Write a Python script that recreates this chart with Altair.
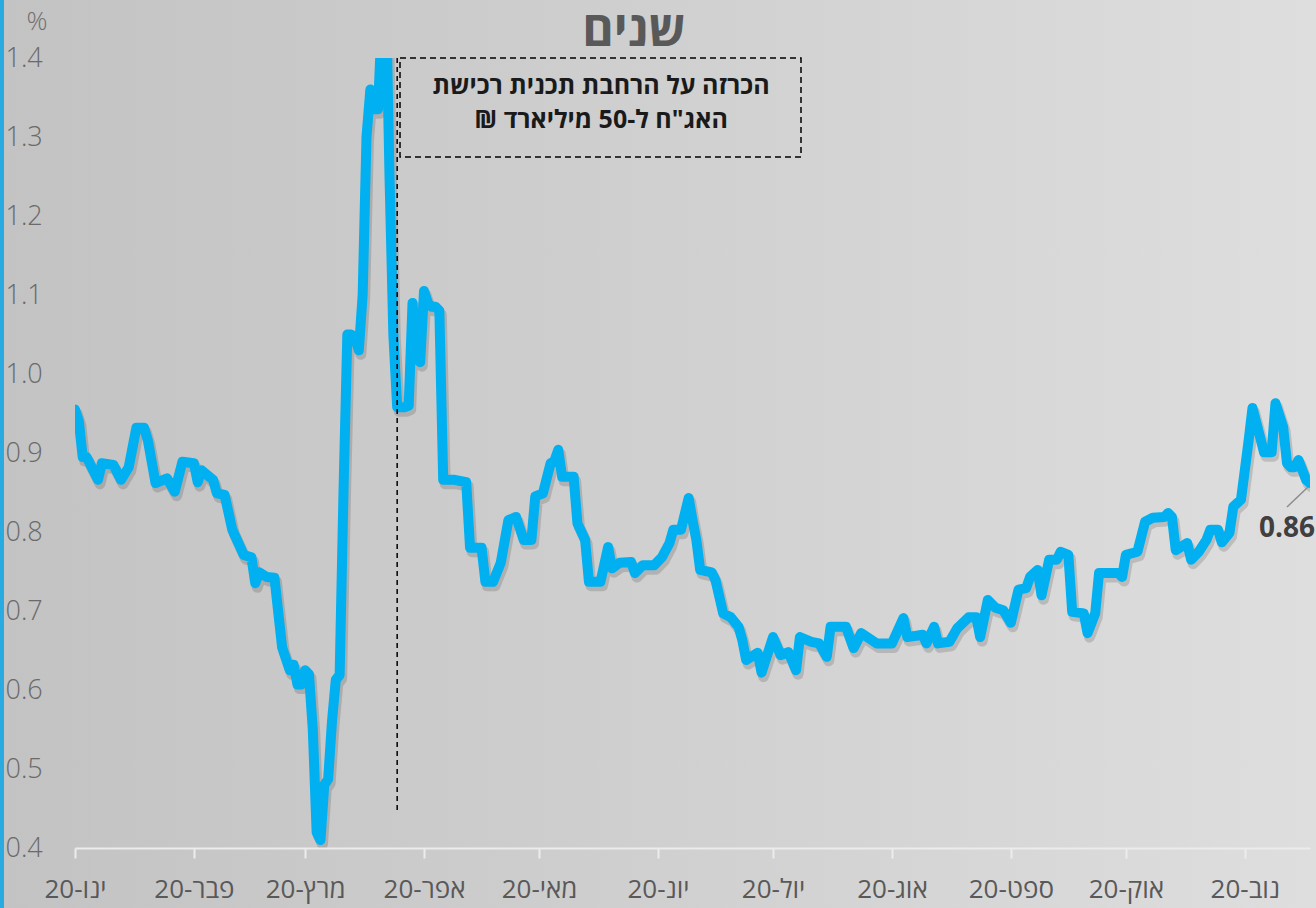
import altair as alt
import pandas as pd

# ---- data ----
dates = [
    "2020-01-01", "2020-01-02", "2020-01-03", "2020-01-04", "2020-01-07", "2020-01-08", "2020-01-11",
    "2020-01-13", "2020-01-15", "2020-01-17", "2020-01-19", "2020-01-20", "2020-01-22", "2020-01-25",
    "2020-01-27", "2020-01-29", "2020-02-01", "2020-02-02", "2020-02-03", "2020-02-06", "2020-02-07",
    "2020-02-09", "2020-02-11", "2020-02-14", "2020-02-16", "2020-02-17", "2020-02-18", "2020-02-20",
    "2020-02-22", "2020-02-24", "2020-02-26", "2020-02-27", "2020-02-28", "2020-02-29", "2020-03-01",
    "2020-03-02", "2020-03-03", "2020-03-04", "2020-03-05", "2020-03-06", "2020-03-07", "2020-03-08",
    "2020-03-09", "2020-03-10", "2020-03-11", "2020-03-12", "2020-03-13", "2020-03-14", "2020-03-15",
    "2020-03-16", "2020-03-17", "2020-03-18", "2020-03-19", "2020-03-20", "2020-03-21", "2020-03-22",
    "2020-03-23", "2020-03-24", "2020-03-25", "2020-03-26", "2020-03-27", "2020-03-28", "2020-03-29",
    "2020-03-30", "2020-03-31", "2020-04-01", "2020-04-02", "2020-04-03", "2020-04-04", "2020-04-05",
    "2020-04-06", "2020-04-07", "2020-04-09", "2020-04-12", "2020-04-13", "2020-04-16", "2020-04-17",
    "2020-04-19", "2020-04-21", "2020-04-23", "2020-04-25", "2020-04-27", "2020-04-29", "2020-04-30",
    "2020-05-02", "2020-05-04", "2020-05-05", "2020-05-06", "2020-05-07", "2020-05-10", "2020-05-11",
    "2020-05-13", "2020-05-14", "2020-05-17", "2020-05-19", "2020-05-20", "2020-05-22", "2020-05-25",
    "2020-05-26", "2020-05-28", "2020-05-31", "2020-06-02", "2020-06-04", "2020-06-05", "2020-06-07",
    "2020-06-09", "2020-06-10", "2020-06-11", "2020-06-12", "2020-06-15", "2020-06-16", "2020-06-18",
    "2020-06-20", "2020-06-22", "2020-06-23", "2020-06-24", "2020-06-27", "2020-06-28", "2020-07-01",
    "2020-07-03", "2020-07-05", "2020-07-07", "2020-07-08", "2020-07-11", "2020-07-13", "2020-07-15",
    "2020-07-16", "2020-07-20", "2020-07-22", "2020-07-24", "2020-07-28", "2020-08-01", "2020-08-04",
    "2020-08-05", "2020-08-09", "2020-08-10", "2020-08-12", "2020-08-13", "2020-08-16", "2020-08-18",
    "2020-08-21", "2020-08-23", "2020-08-24", "2020-08-26", "2020-08-28", "2020-08-30", "2020-09-01",
    "2020-09-03", "2020-09-05", "2020-09-06", "2020-09-08", "2020-09-09", "2020-09-11", "2020-09-13",
    "2020-09-14", "2020-09-16", "2020-09-17", "2020-09-20", "2020-09-21", "2020-09-23", "2020-09-24",
    "2020-09-29", "2020-09-30", "2020-10-01", "2020-10-04", "2020-10-06", "2020-10-08", "2020-10-11",
    "2020-10-12", "2020-10-13", "2020-10-14", "2020-10-17", "2020-10-18", "2020-10-20", "2020-10-22",
    "2020-10-23", "2020-10-25", "2020-10-26", "2020-10-28", "2020-10-29", "2020-10-31", "2020-11-01",
    "2020-11-02", "2020-11-03", "2020-11-05", "2020-11-06", "2020-11-08", "2020-11-09", "2020-11-11",
    "2020-11-12", "2020-11-13", "2020-11-14", "2020-11-15", "2020-11-17", "2020-11-18",
]
values = [
    0.955, 0.94, 0.895, 0.895, 0.866, 0.887, 0.885,
    0.866, 0.882, 0.932, 0.932, 0.916, 0.862, 0.868,
    0.851, 0.889, 0.887, 0.863, 0.878, 0.866, 0.849,
    0.847, 0.803, 0.771, 0.768, 0.735, 0.749, 0.743,
    0.742, 0.654, 0.625, 0.632, 0.607, 0.607, 0.625,
    0.62, 0.55, 0.42, 0.41, 0.48, 0.487, 0.56,
    0.613, 0.619, 0.85, 1.05, 1.05, 1.045, 1.03,
    1.10, 1.30, 1.36, 1.335, 1.335, 1.45, 1.50,
    1.25, 1.05, 0.958, 0.958, 0.958, 0.96, 1.09,
    1.02, 1.015, 1.105, 1.09, 1.085, 1.085, 1.08,
    0.866, 0.866, 0.866, 0.863, 0.78, 0.78, 0.737,
    0.737, 0.761, 0.815, 0.819, 0.79, 0.79, 0.845,
    0.849, 0.887, 0.89, 0.904, 0.87, 0.87, 0.811,
    0.79, 0.737, 0.737, 0.781, 0.754, 0.761, 0.762,
    0.748, 0.758, 0.758, 0.768, 0.786, 0.803, 0.803,
    0.843, 0.815, 0.79, 0.752, 0.749, 0.739, 0.697,
    0.692, 0.68, 0.663, 0.638, 0.647, 0.622, 0.667,
    0.644, 0.648, 0.625, 0.667, 0.661, 0.659, 0.642,
    0.68, 0.68, 0.653, 0.672, 0.659, 0.659, 0.691,
    0.667, 0.67, 0.659, 0.68, 0.659, 0.661, 0.678,
    0.692, 0.692, 0.667, 0.714, 0.704, 0.701, 0.685,
    0.727, 0.729, 0.743, 0.752, 0.72, 0.765, 0.765,
    0.775, 0.771, 0.699, 0.697, 0.672, 0.697, 0.748,
    0.748, 0.743, 0.771, 0.775, 0.813, 0.818, 0.819,
    0.824, 0.819, 0.777, 0.786, 0.765, 0.775, 0.79,
    0.803, 0.803, 0.787, 0.799, 0.832, 0.841, 0.878,
    0.916, 0.957, 0.92, 0.901, 0.901, 0.963, 0.933,
    0.887, 0.882, 0.882, 0.891, 0.866, 0.862,
]
month_names = ["ינו", "פבר", "מרץ", "אפר", "מאי", "יונ", "יול", "אוג", "ספט", "אוק", "נוב", "דצמ"]
tick_months = [1, 2, 3, 4, 5, 6, 7, 8, 9, 10, 11]
y_ticks = [0.4, 0.5, 0.6, 0.7, 0.8, 0.9, 1.0, 1.1, 1.2, 1.3, 1.4]
title_text = "שנים"
unit_text = "%"
note_line1 = "הכרזה על הרחבת תכנית רכישת"
note_line2 = "האג\"ח ל-50 מיליארד ₪\u200f"
event_date = ["2020-03-25"]

# ---- layout ----
PAD_L, PAD_T, PAD_R, PAD_B = 75, 58, 6, 60
W = 1316 - PAD_L - PAD_R
H = 908 - PAD_T - PAD_B

df = pd.DataFrame({"date": dates, "value": values})
last = df.tail(1)
one = pd.DataFrame({"k": [0]})

FONT = "Open Sans, Liberation Sans, DejaVu Sans, sans-serif"
LINE_BLUE = "#00b0f0"

x_scale = alt.Scale(
    type="utc",
    domain=[alt.DateTime(year=2020, month=1, date=1, utc=True),
            alt.DateTime(year=2020, month=11, date=18, utc=True)],
)
y_scale = alt.Scale(domain=[0.4, 1.4], nice=False, zero=False)

label_expr = "[" + ",".join("'" + m + "'" for m in month_names) + "][utcmonth(datum.value)] + '-' + utcFormat(datum.value, '%y')"

x_axis = alt.Axis(
    values=[alt.DateTime(year=2020, month=m, date=1, utc=True) for m in tick_months],
    labelExpr=label_expr, title=None, grid=False, zindex=2,
    domainColor="#ececec", domainWidth=2, tickColor="#ececec", tickWidth=2, tickSize=10,
    labelFontSize=26, labelColor="#595959", labelFont=FONT, labelPadding=18,
    labelFlush=False, labelOverlap=False, labelAlign="center",
)
y_axis = alt.Axis(
    values=y_ticks, format=".1f", title=None, grid=False, domain=False, ticks=False, zindex=2,
    labelAlign="left", labelPadding=70, labelFontSize=27, labelColor="#6a6a6a",
    labelFont=FONT, labelFontWeight=300, labelBaseline="middle", labelOverlap=False,
    labelFlush=False,
)

bg = alt.Chart(one).mark_rect(
    fill=alt.LinearGradient(
        gradient="linear",
        stops=[alt.GradientStop(color="#c3c3c3", offset=0),
               alt.GradientStop(color="#cdcdcd", offset=0.4),
               alt.GradientStop(color="#dedede", offset=1)],
        x1=0, x2=1, y1=0, y2=0,
    )
).encode(x=alt.value(-PAD_L), x2=alt.value(W + PAD_R), y=alt.value(-PAD_T), y2=alt.value(H + PAD_B))

border = alt.Chart(one).mark_rect(fill="#29abe2").encode(
    x=alt.value(-PAD_L), x2=alt.value(-PAD_L + 4), y=alt.value(-PAD_T), y2=alt.value(H + PAD_B)
)

shadow = alt.Chart(df).mark_line(
    color="black", opacity=0.14, strokeWidth=11, xOffset=2, yOffset=4, clip=True,
    strokeJoin="round", strokeCap="round",
).encode(x=alt.X("date:T", scale=x_scale, axis=x_axis), y=alt.Y("value:Q", scale=y_scale, axis=y_axis))

line = alt.Chart(df).mark_line(
    color=LINE_BLUE, strokeWidth=10, clip=True, strokeJoin="round", strokeCap="round",
).encode(x=alt.X("date:T", scale=x_scale), y=alt.Y("value:Q", scale=y_scale))

event = alt.Chart(pd.DataFrame({"date": event_date, "top": [1.4], "bottom": [0.446]})).mark_rule(
    color="black", strokeWidth=1.5, strokeDash=[5, 4]
).encode(x=alt.X("date:T", scale=x_scale), y=alt.Y("top:Q", scale=y_scale), y2="bottom:Q")

box = alt.Chart(one).mark_rect(
    fill="transparent", stroke="black", strokeWidth=1.5, strokeDash=[6, 4]
).encode(x=alt.value(325), x2=alt.value(726), y=alt.value(0), y2=alt.value(99))

note1 = alt.Chart(one).mark_text(
    text=note_line1, font=FONT, fontSize=25, fontWeight="bold", color="#1a1a1a",
    align="center", baseline="middle",
).encode(x=alt.value(526), y=alt.value(28))
note2 = alt.Chart(one).mark_text(
    text=note_line2, font=FONT, fontSize=25, fontWeight="bold", color="#1a1a1a",
    align="center", baseline="middle",
).encode(x=alt.value(526), y=alt.value(62))

title = alt.Chart(one).mark_text(
    text=title_text, font=FONT, fontSize=48, fontWeight="bold", color="#595959",
    align="center", baseline="middle",
).encode(x=alt.value(559), y=alt.value(-26))

unit = alt.Chart(one).mark_text(
    text=unit_text, font=FONT, fontSize=26, fontWeight=300, color="#707070",
    align="center", baseline="middle",
).encode(x=alt.value(-38), y=alt.value(-36))

leader = alt.Chart(last).mark_rule(
    color="#8c8c8c", strokeWidth=1.5, xOffset=-23, yOffset=24, x2Offset=-2, y2Offset=4
).encode(x=alt.X("date:T", scale=x_scale), x2="date:T",
         y=alt.Y("value:Q", scale=y_scale), y2="value:Q")

end_label = alt.Chart(last).mark_text(
    font=FONT, fontSize=28, fontWeight="bold", color="#404040",
    align="center", baseline="middle", dx=-23, dy=46,
).encode(x=alt.X("date:T", scale=x_scale), y=alt.Y("value:Q", scale=y_scale),
         text=alt.Text("value:Q", format=".2f"))

chart = alt.layer(
    bg, border, shadow, line, event, box, note1, note2, title, unit, leader, end_label
).properties(
    width=W, height=H,
    autosize=alt.AutoSizeParams(type="none"),
    padding={"left": PAD_L, "top": PAD_T, "right": PAD_R, "bottom": PAD_B},
    background="#cccccc",
).configure_view(strokeWidth=0)

chart.save("out.html", embed_options={"renderer": "svg", "actions": False})
